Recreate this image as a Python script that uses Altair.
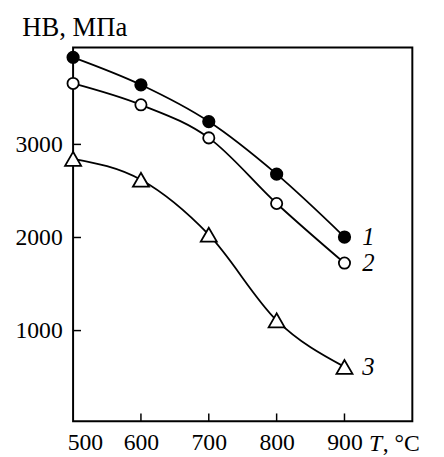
import altair as alt
import pandas as pd

temps = [500, 600, 700, 800, 900]
hb_1 = [3935, 3640, 3245, 2680, 2005]
hb_2 = [3655, 3425, 3070, 2365, 1725]
hb_3 = [2845, 2620, 2030, 1110, 610]
series_names = ["1", "2", "3"]
x_ticks = [500, 600, 700, 800, 900]
y_ticks = [1000, 2000, 3000]

rows = []
for name, vals in zip(series_names, [hb_1, hb_2, hb_3]):
    for t, v in zip(temps, vals):
        rows.append({"series": name, "T": t, "HB": v})
df = pd.DataFrame(rows)

FONT = "Liberation Serif"
W, H = 344, 379

xs = alt.Scale(domain=[500, 1000], nice=False, zero=False)
ys = alt.Scale(domain=[25, 4040], nice=False, zero=False)

x_axis = alt.Axis(values=x_ticks, ticks=False, domain=False, grid=False,
                  format="d", labelPadding=10, labelFlush=True,
                  labelFlushOffset=6, title=None)
y_axis = alt.Axis(values=y_ticks, ticks=False, domain=False, grid=False,
                  format="d", labelPadding=11, title="НВ, МПа", titleAngle=0,
                  titleX=-52, titleY=-12, titleAlign="left",
                  titleBaseline="alphabetic")

base = alt.Chart(df)

lines = base.mark_line(interpolate="monotone", color="black", strokeWidth=1.8).encode(
    x=alt.X("T:Q", scale=xs, axis=x_axis),
    y=alt.Y("HB:Q", scale=ys, axis=y_axis),
    detail="series:N",
)

marker_styles = {
    "1": dict(shape="circle", fill="black", size=135),
    "2": dict(shape="circle", fill="white", size=130),
    "3": dict(shape="triangle-up", fill="white", size=265),
}
point_layers = []
for name in series_names:
    st = marker_styles[name]
    point_layers.append(
        base.transform_filter(alt.datum.series == name).mark_point(
            shape=st["shape"], fill=st["fill"], size=st["size"],
            filled=True, stroke="black", strokeWidth=1.8, opacity=1,
            fillOpacity=1, strokeOpacity=1,
        ).encode(x=alt.X("T:Q", scale=xs), y=alt.Y("HB:Q", scale=ys))
    )

labels = base.transform_filter(alt.datum.T == 900).mark_text(
    align="left", baseline="middle", dx=18, font=FONT, fontSize=25,
    fontStyle="italic", color="black"
).encode(
    x=alt.X("T:Q", scale=xs),
    y=alt.Y("HB:Q", scale=ys),
    text="series:N",
)

ytick_df = pd.DataFrame({"v": y_ticks})
yticks = alt.Chart(ytick_df).mark_rule(color="black", strokeWidth=1.5).encode(
    y=alt.Y("v:Q", scale=ys), x=alt.value(0), x2=alt.value(8)
)
xtick_df = pd.DataFrame({"v": x_ticks[1:]})
xticks = alt.Chart(xtick_df).mark_rule(color="black", strokeWidth=1.5).encode(
    x=alt.X("v:Q", scale=xs), y=alt.value(H), y2=alt.value(H - 8)
)

t_label = alt.Chart(pd.DataFrame({"t": ["T"]})).mark_text(
    align="left", baseline="alphabetic", font=FONT, fontSize=24,
    fontStyle="italic", color="black"
).encode(x=alt.value(300), y=alt.value(409), text="t:N")
unit_label = alt.Chart(pd.DataFrame({"t": [", °C"]})).mark_text(
    align="left", baseline="alphabetic", font=FONT, fontSize=24,
    color="black"
).encode(x=alt.value(314), y=alt.value(409), text="t:N")

chart = alt.layer(lines, *point_layers, labels, yticks, xticks, t_label, unit_label).properties(
    width=W, height=H,
    autosize=alt.AutoSizeParams(type="none"),
    padding={"left": 66, "top": 37, "right": 24, "bottom": 32},
    background="white",
).configure_view(
    stroke="black", strokeWidth=2
).configure_axis(
    labelFont=FONT, labelFontSize=24, labelColor="black",
    titleFont=FONT, titleFontSize=27, titleFontWeight="normal",
    titleColor="black",
)

chart.save("out.html", embed_options={"renderer": "svg", "actions": False})
